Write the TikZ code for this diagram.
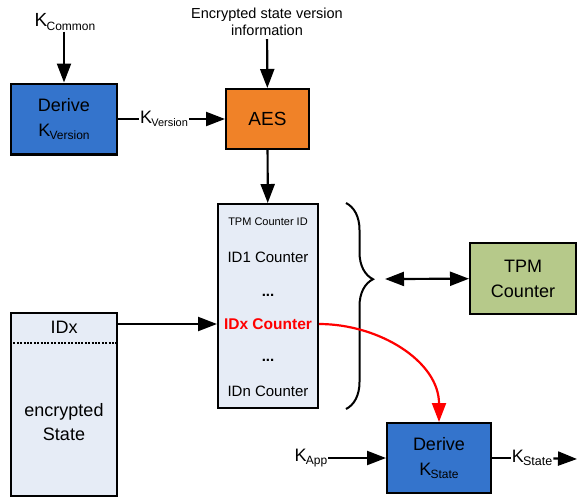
\documentclass[tikz,border=0pt]{standalone}
\usepackage{fontspec}
\setmainfont{Liberation Sans}
\usetikzlibrary{arrows.meta,decorations.pathreplacing}
\definecolor{boxblue}{RGB}{52,116,204}
\definecolor{boxorange}{RGB}{240,130,40}
\definecolor{boxgreen}{RGB}{182,201,138}
\definecolor{boxpale}{RGB}{230,236,246}
\newcommand{\Ksub}[2][12]{K\kern-0.8pt\raisebox{-0.35ex}{\fontsize{#1}{#1}\selectfont #2}}
\tikzset{
  blk/.style={draw, line width=2.4pt, align=center, inner sep=0pt, font=\fontsize{18}{25}\selectfont},
  lbl/.style={inner sep=1pt, font=\fontsize{18}{20}\selectfont},
  cnt/.style={inner sep=1pt, font=\fontsize{15}{17}\selectfont},
  arr/.style={line width=2.2pt, -{Triangle[length=19pt,width=14pt]}},
}
\begin{document}
\begin{tikzpicture}[x=1pt,y=-1pt]
  \useasboundingbox (0,0) rectangle (577,499);
  \node[blk, fill=boxblue, minimum width=105.6pt, minimum height=70.6pt] (derivever) at (64,119) {Derive\\\Ksub{Version}};
  \node[blk, fill=boxorange, minimum width=82.6pt, minimum height=59.6pt, font=\fontsize{19}{20}\selectfont] (aes) at (267.5,119) {AES};
  \node[blk, fill=boxpale, minimum width=99.6pt, minimum height=203.6pt] (counters) at (268,306) {};
  \node[blk, fill=boxgreen, minimum width=105.6pt, minimum height=70.6pt] (tpm) at (523,278.5) {TPM\\Counter};
  \node[blk, fill=boxpale, minimum width=105.6pt, minimum height=182.6pt] (state) at (64,404.5) {};
  \node[blk, fill=boxblue, minimum width=103.6pt, minimum height=69.6pt] (derivestate) at (439,458) {Derive\\\Ksub{State}};

  \node[lbl, font=\fontsize{19}{20}\selectfont] (kcommon) at (65,22) {\Ksub{Common}};
  \node[lbl, align=center, inner sep=3pt, font=\fontsize{14.5}{17}\selectfont] (encinfo) at (267,22) {Encrypted state version\\information};
  \node[lbl] (kapp) at (311,458) {\Ksub{App}};
  \node[lbl] (kstate) at (532,458) {\Ksub[12.5]{State}};
  \coordinate (kout) at (577,459);

  \node[cnt, font=\fontsize{11}{12}\selectfont] (cntid) at (268,222) {TPM Counter ID};
  \node[cnt] (id1cnt) at (268,257) {ID1 Counter};
  \node[cnt, font=\bfseries\fontsize{15}{17}\selectfont] (dotsa) at (268,295) {...};
  \node[cnt, text=red, font=\bfseries\fontsize{15.5}{17}\selectfont] (idxcnt) at (268,324) {IDx Counter};
  \node[cnt, font=\bfseries\fontsize{15}{17}\selectfont] (dotsb) at (268,360) {...};
  \node[cnt] (idncnt) at (268,391) {IDn Counter};

  \node[lbl] (stateidx) at (64,327) {IDx};
  \draw[line width=2.5pt, dash pattern=on 2pt off 1.4pt] (state.west |- 0,343) -- (state.east |- 0,343);
  \node[lbl, align=center, font=\fontsize{18}{24}\selectfont] (statetxt) at (64,422) {encrypted\\State};

  \draw[line width=2pt, decorate, decoration={brace, amplitude=27pt, aspect=0.37}] (346,203) -- (346,409);
  \coordinate (brtip) at (385,279);

  \draw[arr] (kcommon.south -| derivever) -- (derivever);
  \draw[arr] (encinfo) -- (aes);
  \draw[arr] (derivever) -- node[lbl, fill=white, pos=0.43] {\Ksub[11]{Version}} (aes);
  \draw[arr] (aes) -- (counters);
  \draw[arr] (state.east |- idxcnt) -- (idxcnt -| counters.west);
  \draw[line width=2.2pt, {Triangle[length=19pt,width=14pt]}-{Triangle[length=19pt,width=14pt]}] (brtip) -- (tpm);
  \draw[arr, red] (counters.east |- idxcnt) to[out=0, in=90] (derivestate.north);
  \draw[arr] (kapp) -- (derivestate);
  \draw[line width=2.2pt] (derivestate) -- (kstate);
  \draw[arr] (kstate) -- (kout);
\end{tikzpicture}
\end{document}
